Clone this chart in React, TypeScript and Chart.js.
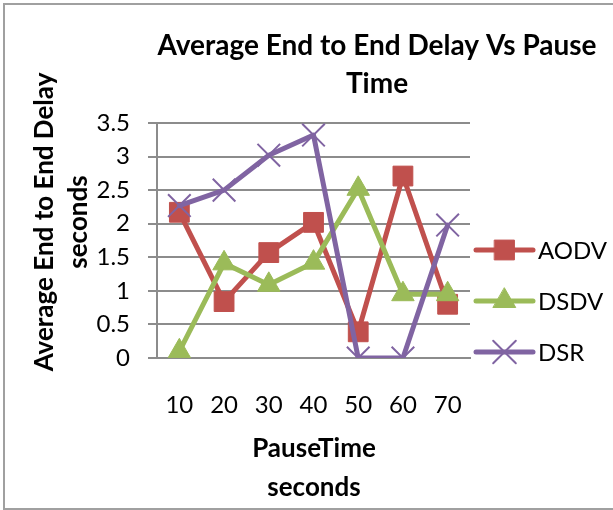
import React, { useEffect, useRef } from 'react';
import { Chart, registerables } from 'chart.js';
import { drawPoint } from 'chart.js/helpers';

Chart.register(...registerables);

const categories = ['10', '20', '30', '40', '50', '60', '70'];
const aodvValues = [2.17, 0.84, 1.57, 2.02, 0.39, 2.71, 0.8];
const dsdvValues = [0.1, 1.41, 1.09, 1.42, 2.52, 0.95, 0.95];
const dsrValues = [2.27, 2.5, 3.02, 3.32, 0, 0, 1.98];
const seriesNames = ['AODV', 'DSDV', 'DSR'];
const titleLines = ['Average End to End Delay Vs Pause', 'Time'];
const yTitleLines = ['Average End to End Delay', 'seconds'];
const xTitleLines = ['PauseTime', 'seconds'];
const yMin = 0;
const yMax = 3.5;
const yStep = 0.5;

const FONT = 'Lato, "Open Sans", sans-serif';
const GRID = '#8c8c8c';

const textPlugin = {
  id: 'excelText',
  afterDraw(chart: any) {
    const ctx = chart.ctx as CanvasRenderingContext2D;
    ctx.save();
    ctx.fillStyle = '#000';
    ctx.textAlign = 'center';
    ctx.textBaseline = 'alphabetic';

    // main title
    ctx.font = `bold 28px ${FONT}`;
    ctx.fillText(titleLines[0], 377, 55);
    ctx.fillText(titleLines[1], 377, 93);

    // x axis title
    ctx.font = `bold 26px ${FONT}`;
    ctx.fillText(xTitleLines[0], 314, 457);
    ctx.fillText(xTitleLines[1], 314, 496);

    // y axis title
    const yBase = [53, 87];
    yTitleLines.forEach((t, i) => {
      ctx.save();
      ctx.translate(yBase[i], 222);
      ctx.rotate(-Math.PI / 2);
      ctx.fillText(t, 0, 0);
      ctx.restore();
    });

    // legend
    chart.data.datasets.forEach((ds: any, i: number) => {
      const y = 250 + i * 51;
      ctx.save();
      ctx.strokeStyle = ds.borderColor;
      ctx.lineWidth = ds.borderWidth;
      ctx.lineCap = 'round';
      ctx.beginPath();
      ctx.moveTo(476, y);
      ctx.lineTo(533, y);
      ctx.stroke();
      ctx.fillStyle = ds.pointBackgroundColor;
      ctx.strokeStyle = ds.pointBorderColor;
      ctx.lineWidth = ds.pointBorderWidth;
      drawPoint(ctx, { pointStyle: ds.pointStyle, rotation: 0, radius: ds.pointRadius, borderWidth: ds.pointBorderWidth } as any, 504.5, y);
      ctx.restore();
      ctx.fillStyle = '#000';
      ctx.textAlign = 'left';
      ctx.font = `24px ${FONT}`;
      ctx.fillText(ds.label, 538, y + 8.5);
    });
    ctx.restore();
  },
};

function makeDataset(label: string, data: number[], color: string, pointStyle: string, radius: number, pbw: number, order: number) {
  return {
    label,
    data,
    borderColor: color,
    backgroundColor: color,
    pointBackgroundColor: color,
    pointBorderColor: color,
    borderWidth: 5,
    pointStyle,
    pointRadius: radius,
    pointHoverRadius: radius,
    pointBorderWidth: pbw,
    borderJoinStyle: 'round',
    borderCapStyle: 'round',
    tension: 0,
    order,
  };
}

export default function App() {
  const ref = useRef<HTMLCanvasElement | null>(null);

  useEffect(() => {
    let chart: Chart | null = null;
    let cancelled = false;
    const build = () => {
      if (cancelled || !ref.current) return;
      chart = new Chart(ref.current, {
        type: 'line',
        data: {
          labels: categories,
          datasets: [
            makeDataset(seriesNames[0], aodvValues, '#C0504D', 'rect', 14, 1, 3),
            makeDataset(seriesNames[1], dsdvValues, '#9BBB59', 'triangle', 13, 1, 2),
            makeDataset(seriesNames[2], dsrValues, '#8064A2', 'crossRot', 16, 2, 1),
          ] as any,
        },
        options: {
          animation: false,
          responsive: false,
          devicePixelRatio: 1,
          layout: { padding: { left: 0, top: 123, right: 143, bottom: 0 } },
          plugins: {
            legend: { display: false },
            title: { display: false },
            tooltip: { enabled: false },
          },
          scales: {
            x: {
              type: 'category',
              offset: true,
              grid: { display: false, drawTicks: false },
              border: { display: true, color: GRID, width: 2 },
              ticks: { color: '#000', padding: 33, font: { family: FONT, size: 24 }, maxRotation: 0, autoSkip: false },
              afterFit: (s: any) => { s.height = 152; },
            },
            y: {
              min: yMin,
              max: yMax,
              grid: { color: GRID, lineWidth: 2, tickLength: 9, drawTicks: true },
              border: { display: true, color: GRID, width: 2 },
              ticks: {
                stepSize: yStep,
                color: '#000',
                padding: 18,
                font: { family: FONT, size: 24 },
                callback: (v: any) => String(Number(v)),
              },
              afterFit: (s: any) => { s.width = 157; },
            },
          },
        } as any,
        plugins: [textPlugin],
      });
    };
    const fontsReady = (document as any).fonts
      ? Promise.all([
          (document as any).fonts.load(`bold 28px Lato`),
          (document as any).fonts.load(`24px Lato`),
        ]).catch(() => null)
      : Promise.resolve(null);
    fontsReady.then(build);
    return () => {
      cancelled = true;
      if (chart) chart.destroy();
    };
  }, []);

  return (
    <div style={{ position: 'fixed', left: 0, top: 0, width: 613, height: 510, overflow: 'hidden', background: '#fff' }}>
      <div style={{ position: 'absolute', left: 3, top: 3, width: 700, height: 507, boxSizing: 'border-box', border: '2px solid #a0a0a0' }} />
      <canvas ref={ref} width={613} height={510} style={{ position: 'absolute', left: 0, top: 0, width: 613, height: 510 }} />
    </div>
  );
}
